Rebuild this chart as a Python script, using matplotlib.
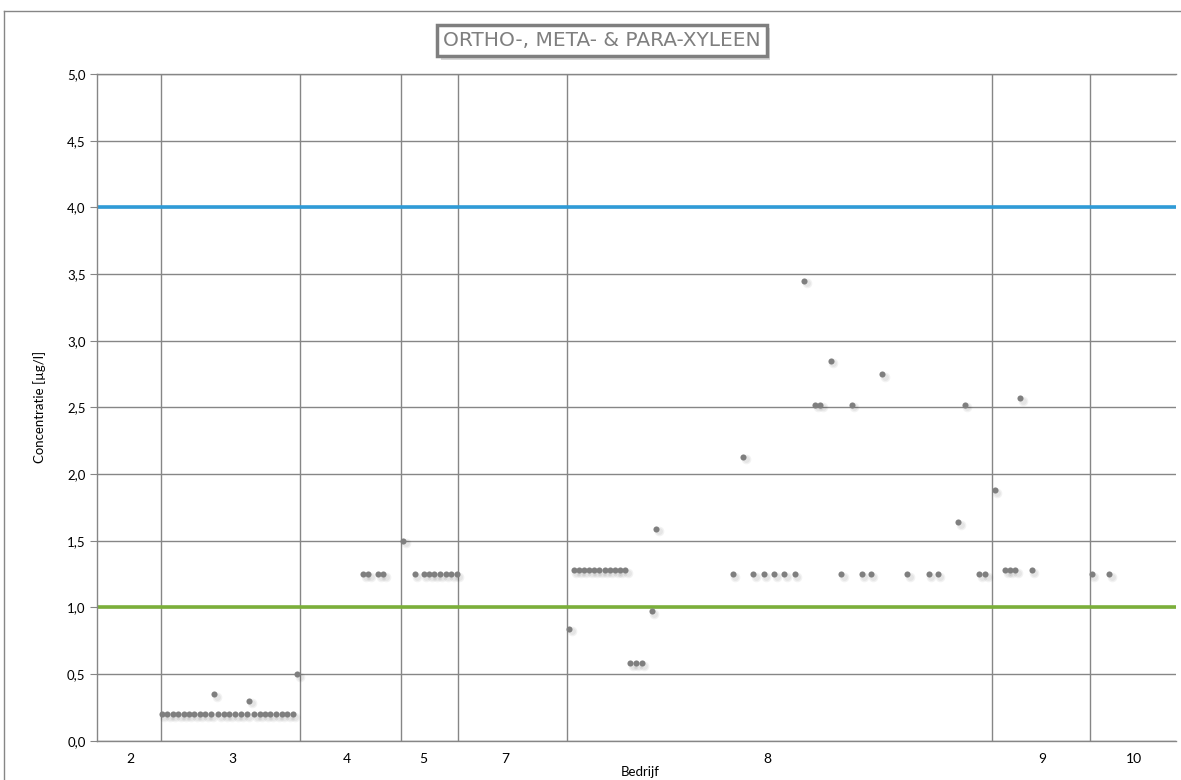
import matplotlib.pyplot as plt
import numpy as np
from matplotlib import transforms
from matplotlib import patheffects
from matplotlib.lines import Line2D

plt.rcParams['font.family'] = ['Lato', 'DejaVu Sans']

# grenzen tussen de bedrijven en plaats van de labels (x-as, 0..200)
grenzen = [11.9, 37.6, 56.5, 67.0, 87.1, 166.0, 184.1]
bedrijven = ['2', '3', '4', '5', '7', '8', '9', '10']
label_pos = [6.2, 25.2, 46.3, 60.5, 75.7, 124.4, 175.2, 192.2]

# normen
norm_hoog = 4.0
norm_laag = 1.0

# metingen per bedrijf: positie en concentratie [ug/l]
pos_3 = [12.1, 13.1, 14.1, 15.1, 16.1, 17.1, 18.1, 19.1, 20.1, 21.1, 21.8, 22.5, 23.6, 24.6,
         25.7, 26.7, 27.8, 28.3, 29.2, 30.2, 31.2, 32.2, 33.3, 34.3, 35.3, 36.3, 37.2]
conc_3 = [0.2, 0.2, 0.2, 0.2, 0.2, 0.2, 0.2, 0.2, 0.2, 0.2, 0.35, 0.2, 0.2, 0.2,
          0.2, 0.2, 0.2, 0.3, 0.2, 0.2, 0.2, 0.2, 0.2, 0.2, 0.2, 0.2, 0.5]

pos_4 = [49.4, 50.3, 52.2, 53.1]
conc_4 = [1.25, 1.25, 1.25, 1.25]

pos_5 = [56.8, 59.0, 60.6, 61.6, 62.6, 63.6, 64.7, 65.7, 66.7]
conc_5 = [1.5, 1.25, 1.25, 1.25, 1.25, 1.25, 1.25, 1.25, 1.25]

pos_8 = [87.6, 88.4, 89.4, 90.3, 91.3, 92.2, 93.2, 94.2, 95.1, 96.1, 97.0, 98.0,
         98.9, 99.9, 101.0, 102.9, 103.7,
         117.9, 119.9, 121.7, 123.7, 125.6, 127.5, 129.4,
         131.2, 133.2, 134.1, 136.1, 138.0, 140.0, 141.8, 143.5, 145.6,
         150.3, 154.2, 155.9, 159.7, 160.9, 163.6, 164.7]
conc_8 = [0.84, 1.28, 1.28, 1.28, 1.28, 1.28, 1.28, 1.28, 1.28, 1.28, 1.28, 1.28,
          0.58, 0.58, 0.58, 0.97, 1.59,
          1.25, 2.13, 1.25, 1.25, 1.25, 1.25, 1.25,
          3.45, 2.52, 2.52, 2.85, 1.25, 2.52, 1.25, 1.25, 2.75,
          1.25, 1.25, 1.25, 1.64, 2.52, 1.25, 1.25]

pos_9 = [166.5, 168.4, 169.3, 170.3, 171.2, 173.3]
conc_9 = [1.88, 1.28, 1.28, 1.28, 2.57, 1.28]

pos_10 = [184.5, 187.7]
conc_10 = [1.25, 1.25]

grijs = '#868686'

fig = plt.figure(figsize=(11.81, 7.80), dpi=100)
ax = fig.add_axes([0.0819, 0.0504, 0.9135, 0.8547])

ax.set_xlim(0, 200)
ax.set_ylim(0, 5)
ax.set_yticks(np.arange(0, 5.01, 0.5))
ax.set_yticklabels([('%.1f' % v).replace('.', ',') for v in np.arange(0, 5.01, 0.5)])
ax.grid(axis='y', color=grijs, lw=1.0)
ax.set_axisbelow(True)
for g in grenzen:
    ax.axvline(g, color=grijs, lw=1.0, zorder=1)

ax.axhline(norm_hoog, color='#2F9BD7', lw=2.6, zorder=2)
ax.axhline(norm_laag, color='#7BAF3A', lw=2.6, zorder=2)

schaduw = transforms.offset_copy(ax.transData, fig=fig, x=2.5, y=-2.5, units='dots')
for p, c in [(pos_3, conc_3), (pos_4, conc_4), (pos_5, conc_5),
             (pos_8, conc_8), (pos_9, conc_9), (pos_10, conc_10)]:
    ax.plot(p, c, 'o', ms=7, color='black', alpha=0.05, mec='none', transform=schaduw, zorder=3)
    ax.plot(p, c, 'o', ms=5, color='black', alpha=0.05, mec='none', transform=schaduw, zorder=3)
    ax.plot(p, c, 'o', ms=4.4, color='#7F7F7F', mec='none', zorder=4)

ax.set_xticks(label_pos)
ax.set_xticklabels(bedrijven)
ax.tick_params(axis='x', length=0, pad=9, labelsize=10)
ax.tick_params(axis='y', length=5, color=grijs, labelsize=9.5, pad=3)

for s in ['left', 'bottom', 'top']:
    ax.spines[s].set_color(grijs)
    ax.spines[s].set_linewidth(1.0)
ax.spines['right'].set_visible(False)

fig.text(40 / 1181, 1 - 407 / 780, 'Concentratie [µg/l]', rotation=90, ha='center', va='center', fontsize=9.5)
fig.text(640 / 1181, 1 - 772 / 780, 'Bedrijf', ha='center', va='center', fontsize=9.5)

# titel met kader en schaduw
titel = fig.text(602 / 1181, 1 - 40.5 / 780, 'ORTHO-, META- & PARA-XYLEEN', ha='center', va='center',
                 fontsize=14.5, color='#7F7F7F', family=['Liberation Sans Narrow', 'DejaVu Sans'],
                 bbox=dict(boxstyle='square,pad=0.3', fc='white', ec='#7F7F7F', lw=2.5))
titel.get_bbox_patch().set_path_effects([
    patheffects.SimplePatchShadow(offset=(2.5, -2.5), shadow_rgbFace='#cfcfcf', alpha=0.8),
    patheffects.Normal()])

# rand om de grafiek
fig.add_artist(Line2D([4 / 1181, 4 / 1181], [0, 1 - 11 / 780], color=grijs, lw=1.0))
fig.add_artist(Line2D([4 / 1181, 1], [1 - 11 / 780, 1 - 11 / 780], color=grijs, lw=1.0))

fig.savefig('out.png', dpi=100)
